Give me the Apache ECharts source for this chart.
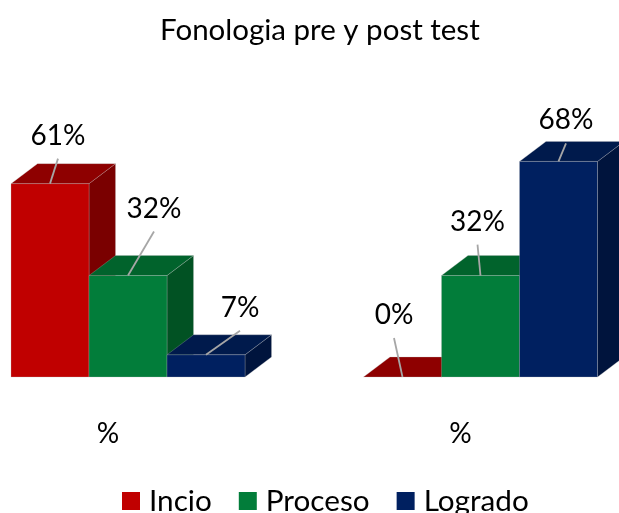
<!DOCTYPE html>
<html><head><meta charset="utf-8">
<style>html,body{margin:0;padding:0;background:#fff}#c{width:619px;height:513px}</style>
<script src="https://cdn.jsdelivr.net/npm/echarts@6/dist/echarts.min.js"></script>
</head><body><div id="c"></div>
<script>
const titleText = 'Fonologia pre y post test';
const categories = ['%', '%'];
const seriesNames = ['Incio', 'Proceso', 'Logrado'];
const incio = [61, 0];
const proceso = [32, 32];
const logrado = [7, 68];

const values = [incio, proceso, logrado];
const FONT = 'Lato, "Open Sans", sans-serif';
const BAR_W = 78, DX = 26.5, DY = 20;
const palette = [
  {front:'#c00000', top:'#8e0000', side:'#7a0000'},
  {front:'#027d3a', top:'#01632c', side:'#015223'},
  {front:'#002060', top:'#001a4c', side:'#00143d'}
];
// leader start relative to the front-top centre of each bar
const leaders = [
  [[8,-25],[-8.5,-39]],
  [[26,-44],[-3,-31]],
  [[34,-24],[7.5,-18]]
];

function renderBar(s){
  return function(params, api){
    const cat = api.value(0), v = api.value(1);
    const base = api.coord([cat, 0]);
    const top = api.coord([cat, v]);
    const x0 = base[0] + (s - 1.5) * BAR_W, x1 = x0 + BAR_W;
    const y0 = base[1], y1 = top[1];
    const c = palette[s];
    const edge = {stroke:'rgba(190,190,190,0.28)', lineWidth:1};
    const poly = (pts, fill) => ({type:'polygon', shape:{points:pts},
      style:Object.assign({fill:fill}, edge)});
    const children = [
      poly([[x1,y0],[x1+DX,y0-DY],[x1+DX,y1-DY],[x1,y1]], c.side),
      poly([[x0,y1],[x0+DX,y1-DY],[x1+DX,y1-DY],[x1,y1]], c.top)
    ];
    if (y0 - y1 > 0.5) children.push(poly([[x0,y0],[x1,y0],[x1,y1],[x0,y1]], c.front));
    const cx = (x0 + x1) / 2, l = leaders[s][cat];
    children.push({type:'line', shape:{x1:cx, y1:y1, x2:cx+l[0], y2:y1+l[1]},
      style:{stroke:'#a6a6a6', lineWidth:1.8}});
    children.push({type:'text', style:{x:cx+l[0], y:y1+l[1]-23, text:v+'%',
      fill:'#000', font:'28px '+FONT, textAlign:'center', textVerticalAlign:'middle'}});
    return {type:'group', children:children};
  };
}

const chart = echarts.init(document.getElementById('c'), null, {renderer:'canvas'});
chart.setOption({
  animation:false,
  backgroundColor:'#fff',
  color:palette.map(p => p.front),
  title:{text:titleText, left:155, top:10,
    textStyle:{fontFamily:FONT, fontWeight:'normal', fontSize:29.5, color:'#000'}},
  legend:{data:seriesNames, left:117, top:481, icon:'rect', itemWidth:18, itemHeight:18, itemGap:27,
    textStyle:{fontFamily:FONT, fontSize:29.7, color:'#000', padding:[0,0,0,4]}},
  grid:{left:-48.25, width:705, top:60, height:317, outerBoundsMode:'none', containLabel:false},
  xAxis:{type:'category', data:categories, axisTick:{show:false}, axisLine:{show:false},
    axisLabel:{color:'#000', fontFamily:FONT, fontSize:28, margin:43, padding:[0,40,0,0]}},
  yAxis:{type:'value', min:0, max:100, show:false, splitLine:{show:false}},
  series:seriesNames.map((name, s) => ({
    name:name, type:'custom', coordinateSystem:'cartesian2d',
    renderItem:renderBar(s), clip:false,
    encode:{x:0, y:1},
    itemStyle:{color:palette[s].front},
    data:values[s].map((v, i) => [i, v])
  }))
});
</script></body></html>
